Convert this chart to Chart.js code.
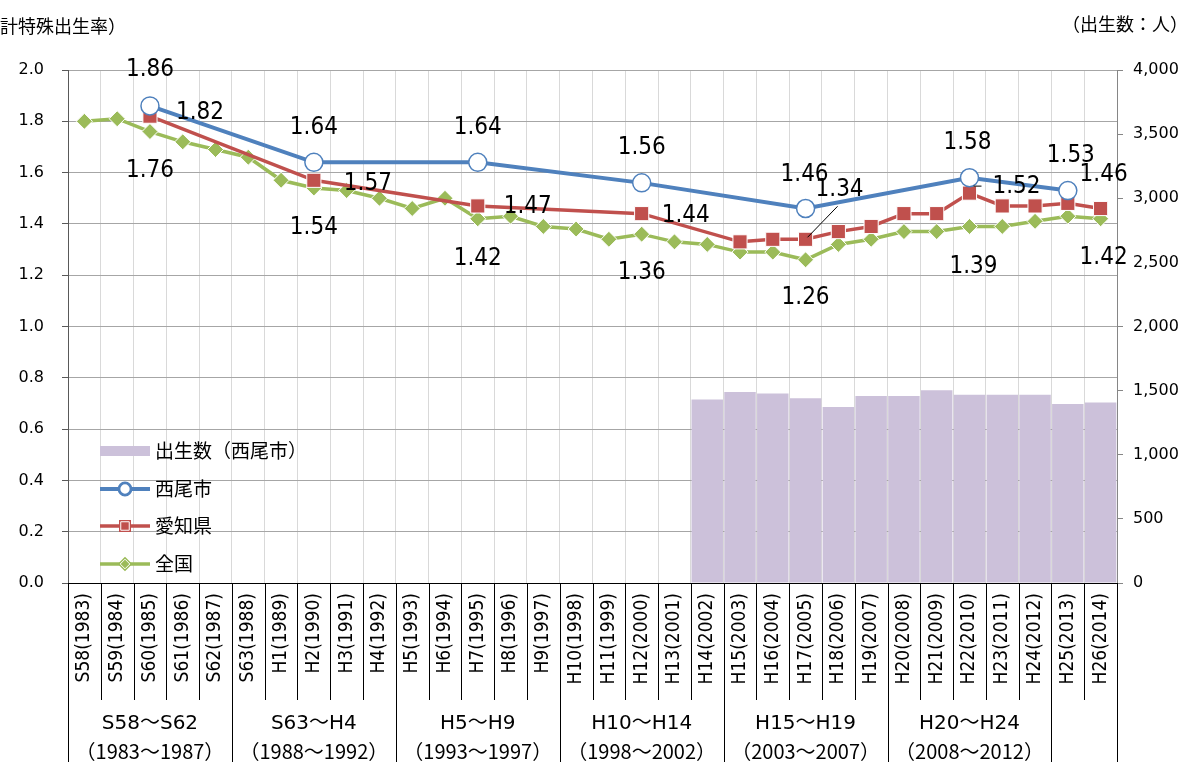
<!DOCTYPE html>
<html>
<head>
<meta charset="utf-8">
<script src="https://cdn.jsdelivr.net/npm/chart.js@4.4.1/dist/chart.umd.min.js"></script>
<style>
html, body { margin: 0; padding: 0; background: #fff; }
</style>
</head>
<body>
<canvas id="birthChart" width="1192" height="762"></canvas>
<script>
const categories = [
    'S58(1983)', 'S59(1984)', 'S60(1985)', 'S61(1986)', 'S62(1987)',
    'S63(1988)', 'H1(1989)', 'H2(1990)', 'H3(1991)', 'H4(1992)',
    'H5(1993)', 'H6(1994)', 'H7(1995)', 'H8(1996)', 'H9(1997)',
    'H10(1998)', 'H11(1999)', 'H12(2000)', 'H13(2001)', 'H14(2002)',
    'H15(2003)', 'H16(2004)', 'H17(2005)', 'H18(2006)', 'H19(2007)',
    'H20(2008)', 'H21(2009)', 'H22(2010)', 'H23(2011)', 'H24(2012)',
    'H25(2013)', 'H26(2014)'
];

const groupTop = ['S58～S62', 'S63～H4', 'H5～H9', 'H10～H14', 'H15～H19', 'H20～H24'];
const groupBottom = ['（1983～1987）', '（1988～1992）', '（1993～1997）', '（1998～2002）', '（2003～2007）', '（2008～2012）'];

// 合計特殊出生率
const nishio = [null, null, 1.86, null, null, null, null, 1.64, null, null,
    null, null, 1.64, null, null, null, null, 1.56, null, null,
    null, null, 1.46, null, null, null, null, 1.58, null, null,
    1.53, null];
const aichi = [null, null, 1.82, null, null, null, null, 1.57, null, null,
    null, null, 1.47, null, null, null, null, 1.44, null, null,
    1.33, 1.34, 1.34, 1.37, 1.39, 1.44, 1.44, 1.52, 1.47, 1.47,
    1.48, 1.46];
const zenkoku = [1.80, 1.81, 1.76, 1.72, 1.69, 1.66, 1.57, 1.54, 1.53, 1.50,
    1.46, 1.50, 1.42, 1.43, 1.39, 1.38, 1.34, 1.36, 1.33, 1.32,
    1.29, 1.29, 1.26, 1.32, 1.34, 1.37, 1.37, 1.39, 1.39, 1.41,
    1.43, 1.42];

// 出生数（西尾市）
const births = [null, null, null, null, null, null, null, null, null, null,
    null, null, null, null, null, null, null, null, null, 1430,
    1490, 1478, 1440, 1372, 1458, 1458, 1502, 1468, 1468, 1468,
    1395, 1408];

const colors = { bar: '#ccc1da', nishio: '#4f81bd', aichi: '#c0504d', zenkoku: '#9bbb59' };

const numFont = '"DejaVu Sans Condensed", "DejaVu Sans", "Noto Sans CJK JP", sans-serif';
const jpFont = '"Noto Sans CJK JP", sans-serif';

// dataset index, point index, label offset, optional leader line
const labelSpots = [
    { ds: 1, i: 2, dx: 0, dy: -36 }, { ds: 2, i: 2, dx: 50, dy: -3 }, { ds: 3, i: 2, dx: 0, dy: 39 },
    { ds: 1, i: 7, dx: 0, dy: -35 }, { ds: 2, i: 7, dx: 54, dy: 3 }, { ds: 3, i: 7, dx: 0, dy: 40 },
    { ds: 1, i: 12, dx: 0, dy: -35 }, { ds: 2, i: 12, dx: 50, dy: 1 }, { ds: 3, i: 12, dx: 0, dy: 40 },
    { ds: 1, i: 17, dx: 0, dy: -35 }, { ds: 2, i: 17, dx: 44, dy: 2 }, { ds: 3, i: 17, dx: 0, dy: 39 },
    { ds: 1, i: 22, dx: -1, dy: -34 }, { ds: 2, i: 22, dx: 34, dy: -50, lead: [2, -2, 32, -33] }, { ds: 3, i: 22, dx: 0, dy: 38 },
    { ds: 1, i: 27, dx: -2, dy: -35 }, { ds: 2, i: 27, dx: 47, dy: -6, lead: [4, -7, 12, -7] }, { ds: 3, i: 27, dx: 4, dy: 40 },
    { ds: 1, i: 30, dx: 3, dy: -35 }, { ds: 2, i: 31, dx: 3, dy: -34 }, { ds: 3, i: 31, dx: 3, dy: 39 }
];

const dataLabels = {
    id: 'dataLabels',
    afterDatasetsDraw(chart) {
        const ctx = chart.ctx;
        ctx.save();
        ctx.font = '24px ' + numFont;
        ctx.fillStyle = '#000';
        ctx.textAlign = 'center';
        ctx.textBaseline = 'middle';
        labelSpots.forEach(s => {
            const pt = chart.getDatasetMeta(s.ds).data[s.i];
            const v = chart.data.datasets[s.ds].data[s.i];
            ctx.fillText(v.toFixed(2), pt.x + s.dx, pt.y + s.dy);
            if (s.lead) {
                ctx.strokeStyle = '#000';
                ctx.lineWidth = 1;
                ctx.beginPath();
                ctx.moveTo(pt.x + s.lead[0], pt.y + s.lead[1]);
                ctx.lineTo(pt.x + s.lead[2], pt.y + s.lead[3]);
                ctx.stroke();
            }
        });
        ctx.restore();
    }
};

const legendBox = {
    id: 'legendBox',
    afterDatasetsDraw(chart) {
        const ctx = chart.ctx;
        const x0 = 100, x1 = 150, tx = 155;
        ctx.save();
        ctx.font = '19px ' + jpFont;
        ctx.textBaseline = 'middle';

        ctx.fillStyle = colors.bar;
        ctx.fillRect(x0, 446, x1 - x0, 10);
        ctx.fillStyle = '#000';
        ctx.fillText('出生数（西尾市）', tx, 451);

        const lines = [
            { y: 489, ds: 1, text: '西尾市', w: 4 },
            { y: 526, ds: 2, text: '愛知県', w: 3.5 },
            { y: 564, ds: 3, text: '全国', w: 3.5 }
        ];
        lines.forEach(l => {
            const ds = chart.data.datasets[l.ds];
            ctx.strokeStyle = ds.borderColor;
            ctx.lineWidth = l.w;
            ctx.beginPath();
            ctx.moveTo(x0, l.y);
            ctx.lineTo(x1, l.y);
            ctx.stroke();
            Chart.helpers.drawPoint(ctx, {
                pointStyle: ds.pointStyle,
                radius: ds.pointRadius * 0.6,
                borderWidth: ds.pointBorderWidth
            }, (x0 + x1) / 2, l.y);
            ctx.fillStyle = ds.pointBackgroundColor;
            ctx.strokeStyle = ds.pointBorderColor;
            ctx.lineWidth = ds.pointBorderWidth;
            ctx.fill();
            ctx.stroke();
            ctx.fillStyle = '#000';
            ctx.fillText(l.text, tx, l.y);
        });
        ctx.restore();
    }
};

const tableLines = {
    id: 'tableLines',
    afterDraw(chart) {
        const ctx = chart.ctx;
        const x = chart.scales.x;
        const w = x.getPixelForValue(1) - x.getPixelForValue(0);
        const start = x.getPixelForValue(0) - w / 2;
        ctx.save();
        ctx.strokeStyle = '#000';
        ctx.lineWidth = 1;
        for (let i = 0; i <= categories.length; i++) {
            const px = Math.round(start + i * w) + 0.5;
            const long = i % 5 === 0 || i === categories.length;
            ctx.beginPath();
            ctx.moveTo(px, x.top);
            ctx.lineTo(px, long ? chart.height : 700);
            ctx.stroke();
        }
        ctx.fillStyle = '#000';
        ctx.textAlign = 'center';
        ctx.textBaseline = 'middle';
        groupTop.forEach((t, g) => {
            const cx = start + (g * 5 + 2.5) * w;
            ctx.font = '20px "DejaVu Sans", "Noto Sans CJK JP", sans-serif';
            ctx.fillText(t, cx, 724);
            ctx.font = '20px ' + jpFont;
            ctx.fillText(groupBottom[g], cx, 751);
        });

        ctx.font = '18px ' + jpFont;
        ctx.textAlign = 'right';
        ctx.fillText('（合計特殊出生率）', 126, 26);
        ctx.fillText('（出生数：人）', 1188, 24);
        ctx.restore();
    }
};

const ctx = document.getElementById('birthChart').getContext('2d');

new Chart(ctx, {
    type: 'bar',
    data: {
        labels: categories,
        datasets: [{
            type: 'bar',
            label: '出生数（西尾市）',
            data: births,
            yAxisID: 'y1',
            backgroundColor: colors.bar,
            barPercentage: 0.96,
            categoryPercentage: 1,
            order: 10
        }, {
            type: 'line',
            label: '西尾市',
            data: nishio,
            yAxisID: 'y',
            borderColor: colors.nishio,
            borderWidth: 4,
            pointStyle: 'circle',
            pointRadius: 9,
            pointBackgroundColor: '#fff',
            pointBorderColor: colors.nishio,
            pointBorderWidth: 1.5,
            spanGaps: true,
            order: 1
        }, {
            type: 'line',
            label: '愛知県',
            data: aichi,
            yAxisID: 'y',
            borderColor: colors.aichi,
            borderWidth: 3.5,
            pointStyle: 'rect',
            pointRadius: 10,
            pointBackgroundColor: colors.aichi,
            pointBorderColor: '#fff',
            pointBorderWidth: 1,
            spanGaps: true,
            order: 2
        }, {
            type: 'line',
            label: '全国',
            data: zenkoku,
            yAxisID: 'y',
            borderColor: colors.zenkoku,
            borderWidth: 3.5,
            pointStyle: 'rectRot',
            pointRadius: 8,
            pointBackgroundColor: colors.zenkoku,
            pointBorderColor: '#fff',
            pointBorderWidth: 1,
            spanGaps: true,
            order: 3
        }]
    },
    options: {
        responsive: false,
        animation: false,
        layout: { padding: { top: 70, left: 0, right: 0, bottom: 0 } },
        scales: {
            x: {
                offset: true,
                grid: { color: '#d9d9d9', offset: true, drawTicks: false },
                border: { color: '#000' },
                ticks: {
                    autoSkip: false,
                    minRotation: 90,
                    maxRotation: 90,
                    padding: 10,
                    color: '#000',
                    font: { family: numFont, size: 19 }
                },
                afterFit(scale) { scale.height = 179; }
            },
            y: {
                position: 'left',
                min: 0,
                max: 2,
                grid: { color: '#a6a6a6', tickColor: '#595959', tickLength: 6 },
                border: { color: '#595959' },
                ticks: {
                    stepSize: 0.2,
                    padding: 18,
                    color: '#000',
                    font: { family: '"DejaVu Sans", sans-serif', size: 16 },
                    callback: v => v.toFixed(1)
                },
                afterFit(scale) { scale.width = 68; }
            },
            y1: {
                position: 'right',
                min: 0,
                max: 4000,
                grid: { drawOnChartArea: false, tickColor: '#868686', tickLength: 6 },
                border: { color: '#868686' },
                ticks: {
                    stepSize: 500,
                    padding: 10,
                    color: '#000',
                    font: { family: '"DejaVu Sans", sans-serif', size: 16 },
                    callback: v => v.toLocaleString('en-US')
                },
                afterFit(scale) { scale.width = 75; }
            }
        },
        plugins: {
            legend: { display: false },
            tooltip: { enabled: false }
        }
    },
    plugins: [dataLabels, legendBox, tableLines]
});
</script>
</body>
</html>
